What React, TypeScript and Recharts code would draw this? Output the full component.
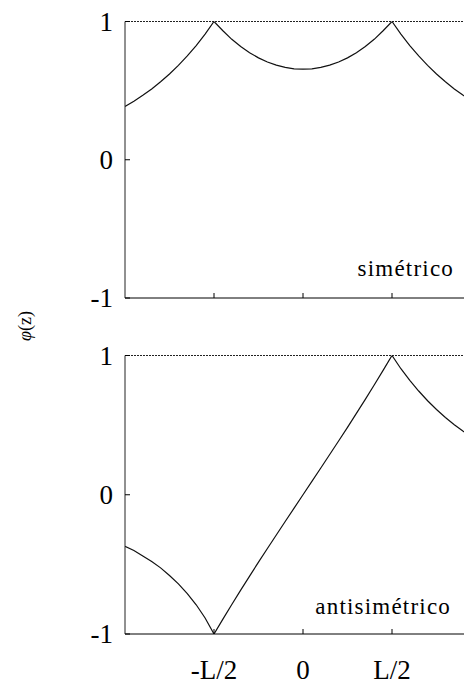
import { LineChart, Line, XAxis, YAxis, ReferenceLine } from 'recharts'

// z in units of L, sampled every 0.05 L
const zValues = [
  -1.0, -0.95, -0.9, -0.85, -0.8, -0.75, -0.7, -0.65, -0.6, -0.55, -0.5,
  -0.45, -0.4, -0.35, -0.3, -0.25, -0.2, -0.15, -0.1, -0.05, 0,
  0.05, 0.1, 0.15, 0.2, 0.25, 0.3, 0.35, 0.4, 0.45, 0.5,
  0.55, 0.6, 0.65, 0.7, 0.75, 0.8, 0.85, 0.9, 0.95, 1.0,
]

const symValues = [
  0.385, 0.423, 0.466, 0.512, 0.564, 0.62, 0.683, 0.751, 0.826, 0.909, 1.0,
  0.933, 0.871, 0.819, 0.774, 0.737, 0.707, 0.684, 0.668, 0.658, 0.655,
  0.658, 0.668, 0.684, 0.707, 0.737, 0.774, 0.819, 0.871, 0.933, 1.0,
  0.909, 0.826, 0.751, 0.683, 0.62, 0.564, 0.512, 0.466, 0.423, 0.385,
]

const antiValues = [
  -0.371, -0.4, -0.44, -0.48, -0.525, -0.58, -0.64, -0.71, -0.79, -0.885, -1.0,
  -0.893, -0.788, -0.685, -0.584, -0.484, -0.386, -0.289, -0.192, -0.096, 0,
  0.096, 0.192, 0.289, 0.386, 0.484, 0.584, 0.685, 0.788, 0.893, 1.0,
  0.905, 0.822, 0.745, 0.675, 0.612, 0.555, 0.503, 0.456, 0.413, 0.375,
]

const xTicks = [-0.5, 0, 0.5]
const xTickLabels = ['-L/2', '0', 'L/2']
const yTicks = [-1, 0, 1]

const symData = zValues.map((z, i) => ({ z, phi: symValues[i] }))
const antiData = zValues.map((z, i) => ({ z, phi: antiValues[i] }))

const FONT = '"Liberation Serif", "Times New Roman", serif'

function YTick({ x, y, payload }: any) {
  return (
    <g>
      <line x1={x} y1={y} x2={x + 5} y2={y} stroke="#000" />
      <text x={x - 12} y={y} textAnchor="end" dominantBaseline="central"
        fontFamily={FONT} fontSize={27} fill="#000">
        {payload.value}
      </text>
    </g>
  )
}

function XTick({ x, y, payload, showLabel }: any) {
  const idx = xTicks.indexOf(payload.value)
  return (
    <g>
      <line x1={x} y1={y} x2={x} y2={y - 5} stroke="#000" />
      {showLabel && (
        <text x={x} y={y + 45} textAnchor="middle" fontFamily={FONT} fontSize={27} fill="#000">
          {xTickLabels[idx]}
        </text>
      )}
    </g>
  )
}

function Panel({ data, top, height, marginTop, axisHeight, showLabels }: any) {
  return (
    <div style={{ position: 'absolute', left: 0, top }}>
      <LineChart width={480} height={height} data={data} style={{ overflow: 'visible' }}
        margin={{ top: marginTop, right: 7, bottom: 0, left: 0 }}>
        <XAxis dataKey="z" type="number" domain={[-1, 1]} ticks={xTicks}
          allowDataOverflow height={axisHeight} tickSize={0} tickMargin={0}
          axisLine={{ stroke: '#000' }} tickLine={false}
          tick={<XTick showLabel={showLabels} />} />
        <YAxis type="number" domain={[-1, 1]} ticks={yTicks} allowDataOverflow
          width={117} tickSize={0} tickMargin={0} tickLine={false}
          axisLine={{ stroke: '#222' }}
          tick={<YTick />} />
        <ReferenceLine y={1} stroke="#222" strokeDasharray="2 1" />
        <Line type="linear" dataKey="phi" stroke="#111" strokeWidth={1.2}
          dot={false} isAnimationActive={false} />
      </LineChart>
    </div>
  )
}

export default function App() {
  const labelStyle: any = {
    position: 'absolute',
    fontFamily: FONT,
    fontSize: 23,
    letterSpacing: 1.2,
    color: '#000',
    lineHeight: 1,
    whiteSpace: 'nowrap',
  }
  return (
    <div style={{ position: 'relative', width: 464, height: 679, overflow: 'hidden', background: '#fff' }}>
      <Panel data={symData} top={0} height={320} marginTop={13.5} axisHeight={30} showLabels={false} />
      <Panel data={antiData} top={320} height={359} marginTop={27.5} axisHeight={53} showLabels />
      <div style={{ ...labelStyle, right: 18, top: 249 }}>simétrico</div>
      <div style={{ ...labelStyle, right: 21, top: 587 }}>antisimétrico</div>
      <div style={{
        position: 'absolute', left: 17, top: 318, fontFamily: FONT, fontSize: 18,
        transform: 'translate(-50%, -50%) rotate(-90deg)', whiteSpace: 'nowrap', lineHeight: 1,
      }}>
        <i>φ</i>(z)
      </div>
    </div>
  )
}
